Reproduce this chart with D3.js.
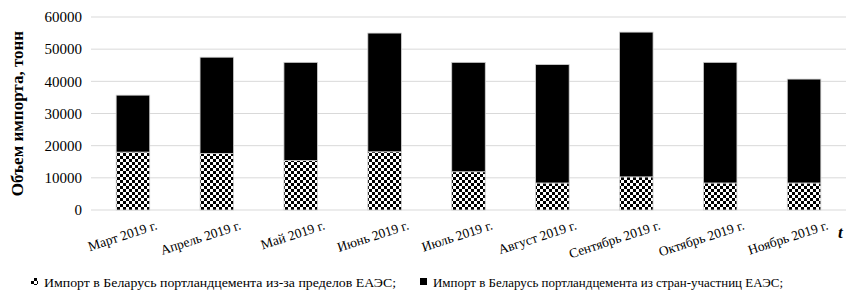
<!DOCTYPE html>
<html>
<head>
<meta charset="utf-8">
<script src="https://cdn.jsdelivr.net/npm/d3@7"></script>
<style>
  body { margin: 0; background: #fff; }
  svg { display: block; }
  text { font-family: "Liberation Serif", "Times New Roman", serif; }
</style>
</head>
<body>
<svg id="chart" width="847" height="303"></svg>
<script>
// месяцы и значения (тонн)
var months = ["Март 2019 г.", "Апрель 2019 г.", "Май 2019 г.", "Июнь 2019 г.", "Июль 2019 г.",
  "Август 2019 г.", "Сентябрь 2019 г.", "Октябрь 2019 г.", "Ноябрь 2019 г."];
var outsideEaeu = [18000, 17600, 15400, 18100, 11900, 8400, 10300, 8400, 8400];
var fromEaeu = [17700, 29900, 30500, 36900, 34000, 36800, 45000, 37500, 32300];
var yTicks = [0, 10000, 20000, 30000, 40000, 50000, 60000];
var legendLabels = ["Импорт в Беларусь портландцемента из-за пределов ЕАЭС;",
  "Импорт в Беларусь портландцемента из стран-участниц ЕАЭС;"];

var svg = d3.select("#chart");
var pLeft = 91, pRight = 846, pTop = 17, pBottom = 210;

var defs = svg.append("defs");
var pat = defs.append("pattern")
  .attr("id", "checker")
  .attr("width", 6).attr("height", 6)
  .attr("patternUnits", "userSpaceOnUse");
pat.append("rect").attr("width", 6).attr("height", 6).attr("fill", "#fff");
pat.append("rect").attr("x", 0).attr("y", 0).attr("width", 3).attr("height", 3).attr("fill", "#000");
pat.append("rect").attr("x", 3).attr("y", 3).attr("width", 3).attr("height", 3).attr("fill", "#000");

var x = d3.scaleBand().domain(months).range([pLeft, pRight]).paddingInner(0.6).paddingOuter(0.3);
var y = d3.scaleLinear().domain([0, 60000]).range([pBottom, pTop]);

// сетка
svg.append("g").selectAll("line")
  .data(yTicks)
  .enter().append("line")
  .attr("x1", pLeft).attr("x2", pRight)
  .attr("y1", function(d) { return y(d); })
  .attr("y2", function(d) { return y(d); })
  .attr("stroke", "#d9d9d9").attr("stroke-width", 1);

// подписи оси Y
var yAxis = svg.append("g")
  .attr("transform", "translate(" + (pLeft - 9) + ",0)")
  .call(d3.axisLeft(y).tickValues(yTicks).tickFormat(d3.format("d")).tickSize(0).tickPadding(0));
yAxis.select(".domain").remove();
yAxis.selectAll("text")
  .style("font-family", "Liberation Serif")
  .style("font-size", "15px")
  .attr("fill", "#000");

var rows = months.map(function(m, i) {
  return { month: m, outside: outsideEaeu[i], eaeu: fromEaeu[i] };
});
var stack = d3.stack().keys(["outside", "eaeu"])(rows);
var fills = ["url(#checker)", "#000"];

svg.append("g").selectAll("g")
  .data(stack)
  .enter().append("g")
  .attr("fill", function(d, i) { return fills[i]; })
  .selectAll("rect")
  .data(function(d) { return d; })
  .enter().append("rect")
  .attr("x", function(d) { return x(d.data.month); })
  .attr("width", x.bandwidth())
  .attr("y", function(d) { return y(d[1]); })
  .attr("height", function(d) { return y(d[0]) - y(d[1]); })
  .attr("stroke", "#d0d0d0")
  .attr("stroke-width", 0.8);

// подписи оси X
svg.append("g").selectAll("text")
  .data(months)
  .enter().append("text")
  .attr("transform", function(d) {
    return "translate(" + (x(d) + x.bandwidth() / 2 + 25) + ",229) rotate(-18)";
  })
  .attr("text-anchor", "end")
  .style("font-size", "13.5px")
  .text(function(d) { return d; });

svg.append("text")
  .attr("transform", "translate(23," + ((pTop + pBottom) / 2) + ") rotate(-90)")
  .attr("text-anchor", "middle")
  .style("font-size", "17px")
  .style("font-weight", "bold")
  .text("Объем импорта, тонн");

svg.append("text")
  .attr("x", 838).attr("y", 238)
  .style("font-size", "17px")
  .style("font-weight", "bold")
  .style("font-style", "italic")
  .text("t");

// легенда
var legX = [31, 420];
var leg = svg.append("g").selectAll("g")
  .data(legendLabels)
  .enter().append("g")
  .attr("transform", function(d, i) { return "translate(" + legX[i] + ",287)"; });
leg.append("rect")
  .attr("x", 0).attr("y", -9).attr("width", 7).attr("height", 7)
  .attr("fill", function(d, i) { return fills[i]; });
leg.append("text")
  .attr("x", 13).attr("y", 0)
  .attr("textLength", function(d, i) { return i === 0 ? 352 : 350; })
  .attr("lengthAdjust", "spacingAndGlyphs")
  .style("font-size", "13px")
  .text(function(d) { return d; });
</script>
</body>
</html>
